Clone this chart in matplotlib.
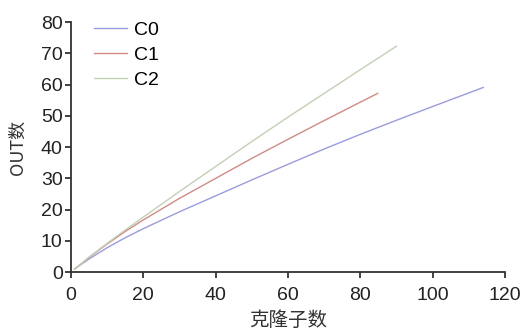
import matplotlib
matplotlib.use("Agg")
import matplotlib.pyplot as plt

plt.rcParams['font.family'] = ['Liberation Sans', 'Noto Sans CJK SC', 'DejaVu Sans']

series_names = ["C0", "C1", "C2"]
c0_x = [1, 3, 5, 10, 15, 20, 30, 40, 50, 60, 70, 80, 90, 100, 114]
c0_y = [1, 2.6, 4.2, 7.8, 11.0, 13.9, 19.3, 24.4, 29.5, 34.5, 39.4, 44.1, 48.6, 53.0, 59.1]
c1_x = [1, 3, 5, 10, 15, 20, 30, 40, 50, 60, 70, 80, 84.8]
c1_y = [1, 2.8, 4.7, 9.0, 13.0, 16.7, 23.6, 30.0, 36.4, 42.5, 48.5, 54.4, 57.2]
c2_x = [1, 3, 5, 10, 15, 20, 30, 40, 50, 60, 70, 80, 90]
c2_y = [1, 2.8, 4.8, 9.2, 13.5, 17.6, 25.8, 33.8, 41.8, 49.6, 57.2, 64.8, 72.3]
colors = ["#9a9cdc", "#cf8a86", "#c2d0b6"]

x_ticks = [0, 20, 40, 60, 80, 100, 120]
y_ticks = [0, 10, 20, 30, 40, 50, 60, 70, 80]

fig = plt.figure(figsize=(5.27, 3.31), dpi=100)
ax = fig.add_axes([0.1347, 0.178, 0.8235, 0.755])

for name, xs, ys, c in zip(series_names, [c0_x, c1_x, c2_x], [c0_y, c1_y, c2_y], colors):
    ax.plot(xs, ys, color=c, lw=1.0, label=name)

ax.set_xlim(0, 120)
ax.set_ylim(0, 80)
ax.set_xticks(x_ticks)
ax.set_yticks(y_ticks)
for s in ["top", "right"]:
    ax.spines[s].set_visible(False)
for s in ["left", "bottom"]:
    ax.spines[s].set_color("#333333")
    ax.spines[s].set_linewidth(1.3)
ax.tick_params(direction="out", length=4, width=1.3, color="#333333",
               labelsize=14, labelcolor="#222222", pad=2)
ax.tick_params(axis="x", pad=7)
ax.set_xlabel("克隆子数", fontsize=14, color="#333333",
              family=['Noto Sans CJK SC', 'DejaVu Sans'], labelpad=4)
ax.set_ylabel("OUT数", fontsize=13, color="#333333",
              family=['Noto Sans CJK SC', 'DejaVu Sans'], labelpad=10)

leg = ax.legend(loc="upper left", bbox_to_anchor=(0.012, 1.075), frameon=False,
                fontsize=14, handlelength=1.7, labelspacing=0.38, handletextpad=0.35)

fig.savefig("out.png", dpi=100)
